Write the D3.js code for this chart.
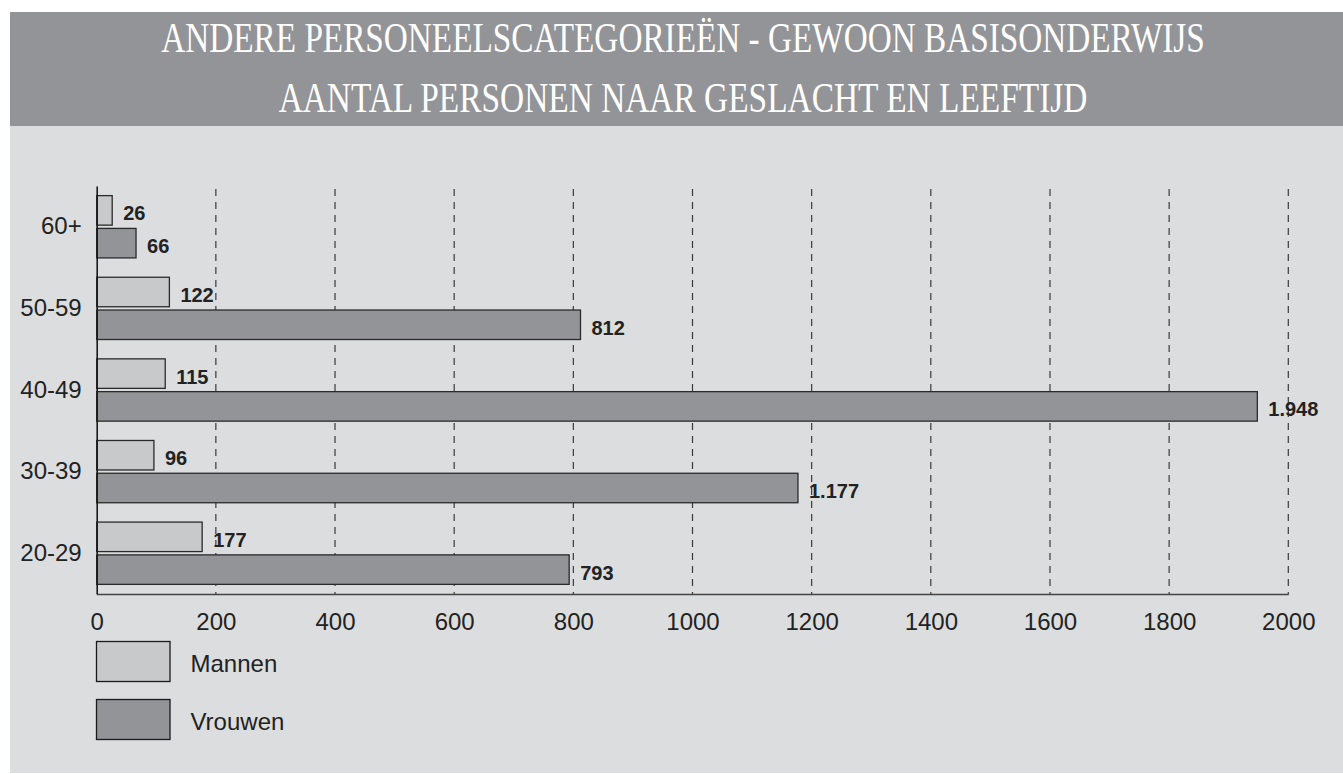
<!DOCTYPE html>
<html>
<head>
<meta charset="utf-8">
<script src="https://cdn.jsdelivr.net/npm/d3@7"></script>
<style>
  body { margin: 0; background: #ffffff; }
  text { font-family: Arial, "Liberation Sans", Helvetica, sans-serif; }
</style>
</head>
<body>
<div id="viz"></div>
<script>

// chart data
var titleLines = ['ANDERE PERSONEELSCATEGORIEËN - GEWOON BASISONDERWIJS',
                  'AANTAL PERSONEN NAAR GESLACHT EN LEEFTIJD'];
var ageGroups = ['60+', '50-59', '40-49', '30-39', '20-29'];
var seriesNames = ['Mannen', 'Vrouwen'];
var mannen = [26, 122, 115, 96, 177];
var vrouwen = [66, 812, 1948, 1177, 793];
var xTicks = [0, 200, 400, 600, 800, 1000, 1200, 1400, 1600, 1800, 2000];

var seriesColors = ['#c8c9cb', '#939498'];

// dutch number format for the bar labels: 1.948
var nl = d3.formatLocale({decimal: ',', thousands: '.', grouping: [3], currency: ['€', '']});
var fmt = nl.format(',');

var width = 1343, height = 774;

var svg = d3.select('#viz').append('svg')
  .attr('width', width)
  .attr('height', height);

// background panel + title band
svg.append('rect')
  .attr('x', 10).attr('y', 12)
  .attr('width', width - 10).attr('height', height - 13)
  .attr('fill', '#dcdddf');

svg.append('rect')
  .attr('x', 10).attr('y', 12)
  .attr('width', width - 10).attr('height', 114)
  .attr('fill', '#939498');

// title: condensed serif, squeezed horizontally to the reference width
var titleWidths = [1044, 809];
svg.selectAll('.title')
  .data(titleLines)
  .enter()
  .append('text')
  .attr('class', 'title')
  .attr('text-anchor', 'middle')
  .style('font-family', '"Liberation Serif", "Times New Roman", serif')
  .style('font-size', '43px')
  .attr('fill', '#ffffff')
  .text(function (d) { return d; })
  .attr('transform', function (d, i) {
    var w = this.getComputedTextLength();
    var s = titleWidths[i] / w;
    return 'translate(683,' + (52 + i * 60) + ') scale(' + s + ',1)';
  });

// scales
var x = d3.scaleLinear().domain([0, 2000]).range([96.7, 1288.3]);
var y = d3.scaleBand().domain(ageGroups).range([186, 594])
  .paddingInner(0.237).paddingOuter(0.118);
var ySub = d3.scaleBand().domain(seriesNames).range([0, y.bandwidth()]).paddingInner(0.1);

// dashed gridlines
svg.selectAll('.grid')
  .data(xTicks.filter(function (d) { return d > 0; }))
  .enter()
  .append('line')
  .attr('class', 'grid')
  .attr('x1', function (d) { return x(d); })
  .attr('x2', function (d) { return x(d); })
  .attr('y1', 189)
  .attr('y2', 594)
  .attr('stroke', '#3a3a3a')
  .attr('stroke-width', 1.2)
  .attr('stroke-dasharray', '7,6');

// bars
var rows = ageGroups.map(function (g, i) {
  return {group: g, values: [mannen[i], vrouwen[i]]};
});

var groups = svg.selectAll('.group')
  .data(rows)
  .enter()
  .append('g')
  .attr('class', 'group')
  .attr('transform', function (d) { return 'translate(0,' + y(d.group) + ')'; });

groups.selectAll('rect')
  .data(function (d) { return d.values; })
  .enter()
  .append('rect')
  .attr('x', x(0))
  .attr('y', function (d, i) { return ySub(seriesNames[i]); })
  .attr('width', function (d) { return x(d) - x(0); })
  .attr('height', ySub.bandwidth())
  .attr('fill', function (d, i) { return seriesColors[i]; })
  .attr('stroke', '#2a2a2a')
  .attr('stroke-width', 1.3);

groups.selectAll('.val')
  .data(function (d) { return d.values; })
  .enter()
  .append('text')
  .attr('class', 'val')
  .attr('x', function (d) { return x(d) + 11; })
  .attr('y', function (d, i) { return ySub(seriesNames[i]) + ySub.bandwidth() / 2 + 10; })
  .style('font-size', '20px')
  .style('font-weight', 'bold')
  .attr('fill', '#222')
  .text(function (d) { return fmt(d); });

// axes
var xAxis = svg.append('g')
  .attr('transform', 'translate(0,594)')
  .call(d3.axisBottom(x).tickValues(xTicks).tickFormat(d3.format('d')).tickSize(0).tickPadding(19));
xAxis.select('.domain').attr('stroke', '#444').attr('stroke-width', 1.4);
xAxis.selectAll('text').style('font-size', '24px').attr('fill', '#222');

var yAxis = svg.append('g')
  .attr('transform', 'translate(' + x(0) + ',0)')
  .call(d3.axisLeft(y).tickSize(0).tickPadding(15));
yAxis.select('.domain').attr('stroke', '#1a1a1a').attr('stroke-width', 1.6);
yAxis.selectAll('text').style('font-size', '24px').attr('fill', '#222');

// legend
var legend = svg.selectAll('.legend')
  .data(seriesNames)
  .enter()
  .append('g')
  .attr('class', 'legend')
  .attr('transform', function (d, i) { return 'translate(96.5,' + (641.5 + i * 58) + ')'; });

legend.append('rect')
  .attr('width', 73.5)
  .attr('height', 40)
  .attr('fill', function (d, i) { return seriesColors[i]; })
  .attr('stroke', '#1a1a1a')
  .attr('stroke-width', 1.3);

legend.append('text')
  .attr('x', 94)
  .attr('y', 30)
  .style('font-size', '24px')
  .attr('fill', '#222')
  .text(function (d) { return d; });

</script>
</body>
</html>
